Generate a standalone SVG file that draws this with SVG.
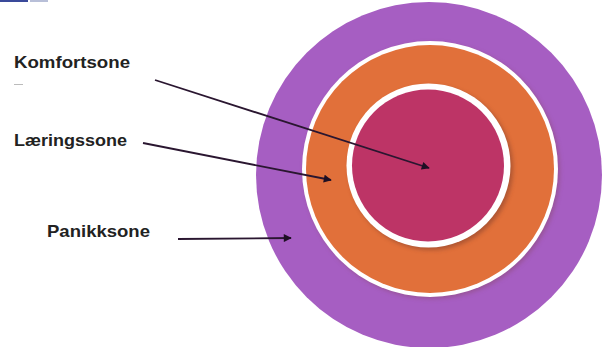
<svg xmlns="http://www.w3.org/2000/svg" width="606" height="347" viewBox="0 0 606 347">
<defs>
<style>
.lbl{font-family:"Liberation Sans",Arial,sans-serif;font-weight:bold;font-size:17px;fill:#222}
.conn{stroke:#2a1630;stroke-width:1.8;fill:none}
</style>
<marker id="ah" viewBox="0 0 10 10" refX="9" refY="5" markerWidth="9" markerHeight="8" orient="auto" markerUnits="userSpaceOnUse">
<path d="M0,0 L10,5 L0,10 z" fill="#1e0f24"/>
</marker>
<filter id="sh" x="-20%" y="-20%" width="140%" height="140%">
<feGaussianBlur stdDeviation="2"/>
</filter>
</defs>
<rect width="606" height="347" fill="#fff"/>
<rect x="0" y="0" width="28" height="2" fill="#3a4a9a"/>
<rect x="30" y="0" width="18" height="2" fill="#b8bfd8"/>
<g id="panikk">
<circle cx="429" cy="175" r="173" fill="#a65ec2"/>
</g>
<g id="laering">
<circle cx="432" cy="171" r="128" fill="#8a4a70" filter="url(#sh)" opacity="0.5"/>
<circle cx="430" cy="169" r="128" fill="#fff"/>
<circle cx="430" cy="169" r="124" fill="#e1703a"/>
</g>
<g id="komfort">
<circle cx="431" cy="168" r="82" fill="#7a3a2a" filter="url(#sh)" opacity="0.5"/>
<circle cx="428.5" cy="165.5" r="82" fill="#fff"/>
<circle cx="428" cy="165.5" r="76" fill="#bd3466"/>
</g>
<g id="labels">
<text class="lbl" x="14" y="68" textLength="116" lengthAdjust="spacingAndGlyphs">Komfortsone</text>
<rect x="14" y="84" width="9" height="1" fill="#bbb"/>
<text class="lbl" x="14" y="146" textLength="113" lengthAdjust="spacingAndGlyphs">Læringssone</text>
<text class="lbl" x="47" y="237" textLength="103" lengthAdjust="spacingAndGlyphs">Panikksone</text>
</g>
<g id="connectors">
<line class="conn" x1="155" y1="80" x2="429" y2="168" marker-end="url(#ah)"/>
<line class="conn" x1="143" y1="143" x2="331" y2="180" marker-end="url(#ah)"/>
<line class="conn" x1="178" y1="239" x2="291" y2="238" marker-end="url(#ah)"/>
</g>
</svg>
